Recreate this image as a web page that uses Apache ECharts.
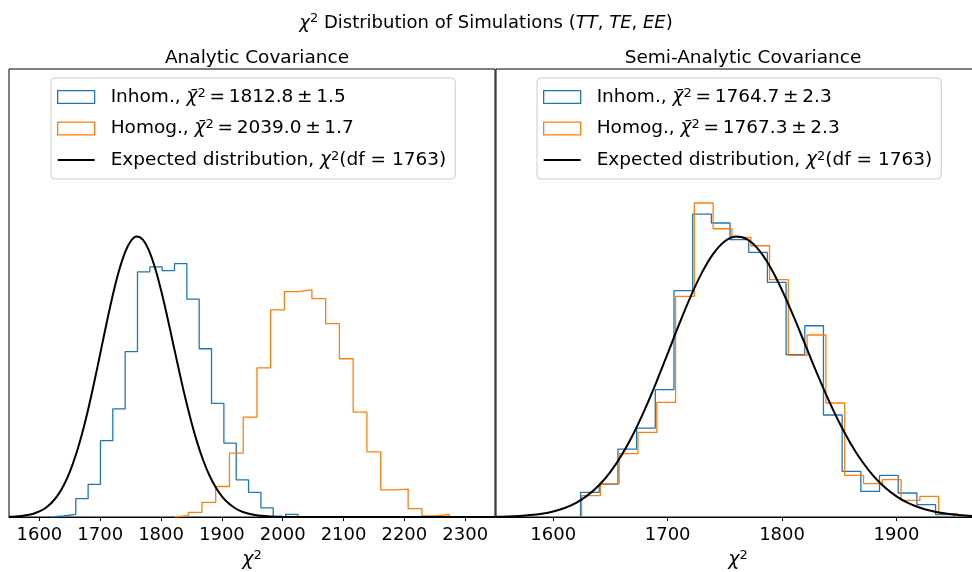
<!DOCTYPE html>
<html><head><meta charset="utf-8">
<script src="https://cdn.jsdelivr.net/npm/echarts@6/dist/echarts.min.js"></script>
<style>html,body{margin:0;padding:0;background:#fff}#c{width:972px;height:572px}</style>
</head><body><div id="c"></div>
<script>
// ---- data (densities in units of 1e-3) ----
const xTicksLeft = [1600, 1700, 1800, 1900, 2000, 2100, 2200, 2300];
const xTicksRight = [1600, 1700, 1800, 1900];

const leftInhomRange = [1619.2, 2025.0];
const leftInhom = [0.024, 0.065, 0.44, 0.78, 1.83, 2.59, 3.96, 5.87, 5.99, 5.90, 6.07, 5.22, 4.03, 2.72, 1.77, 0.89, 0.59, 0.22, 0.0, 0.065];
const leftHomogRange = [1822.0, 2274.0];
const leftHomog = [0.031, 0.11, 0.35, 0.73, 1.53, 2.39, 3.57, 4.96, 5.40, 5.44, 5.23, 4.63, 3.79, 2.51, 1.56, 0.65, 0.67, 0.20, 0.024, 0.06];

const rightInhomRange = [1623.9, 1950.5];
const rightInhom = [0.589, 0.790, 1.628, 2.131, 3.049, 5.420, 7.256, 7.041, 6.641, 6.337, 5.618, 3.887, 4.581, 2.443, 1.092, 0.613, 0.996, 0.575, 0.295, 0.055];
const rightHomogRange = [1624.8, 1953.3];
const rightHomog = [0.510, 0.797, 1.516, 2.026, 2.744, 5.283, 7.520, 6.904, 6.696, 6.497, 5.683, 3.870, 4.359, 2.730, 0.996, 0.797, 0.893, 0.398, 0.493, 0.079];

const curveX = [1550,1560,1570,1580,1590,1600,1610,1620,1630,1640,1650,1660,1670,1680,1690,1700,1710,1720,1730,1740,1750,1760,1770,1780,1790,1800,1810,1820,1830,1840,1850,1860,1870,1880,1890,1900,1910,1920,1930,1940,1950,1960,1970,1980,1990,2000,2020,2050,2100,2350];
const curveY = [0.0070,0.0135,0.0253,0.0455,0.0793,0.1334,0.2168,0.3406,0.5176,0.7608,1.0823,1.4906,1.9885,2.5704,3.2208,3.9129,4.6115,5.2737,5.8535,6.3091,6.6051,6.7190,6.6434,6.3867,5.9715,5.4319,4.8089,4.1440,3.4777,2.8426,2.2638,1.7570,1.3296,0.9810,0.7059,0.4957,0.3395,0.2271,0.1482,0.0945,0.0589,0.0358,0.0213,0.0124,0.0070,0.0039,0.0011,0.0001,0,0];

const nameLI = 'Inhom., {i|χ̄}{s|2}\u2009=\u20091812.8\u2009±\u20091.5';
const nameLH = 'Homog., {i|χ̄}{s|2}\u2009=\u20092039.0\u2009±\u20091.7';
const nameRI = 'Inhom., {i|χ̄}{s|2}\u2009=\u20091764.7\u2009±\u20092.3';
const nameRH = 'Homog., {i|χ̄}{s|2}\u2009=\u20091767.3\u2009±\u20092.3';
const nameC = 'Expected distribution, {i|χ}{s|2}(df = 1763)';

// ---- build ----
const BLUE = '#1f77b4', ORANGE = '#ff7f0e';
function stepData(range, vals) {
  const n = vals.length, w = (range[1] - range[0]) / n;
  const d = [[range[0], 0]];
  vals.forEach((v, i) => d.push([range[0] + i * w, v]));
  d.push([range[1], vals[n - 1]]);
  d.push([range[1], 0]);
  return d;
}
const curve = curveX.map((x, i) => [x, curveY[i]]);
const FONT = 'DejaVu Sans';
function mkRich(fs, lh) {
  return {
    i: { fontStyle: 'italic', fontFamily: FONT, fontSize: fs, lineHeight: lh },
    s: { fontFamily: FONT, fontSize: Math.round(fs * 0.7), lineHeight: Math.round(fs * 0.7), verticalAlign: 'top' }
  };
}

function histSeries(name, data, color, idx) {
  return { name, type: 'line', step: 'end', data, xAxisIndex: idx, yAxisIndex: idx,
    showSymbol: false, symbol: 'none', lineStyle: { color, width: 1.3 }, itemStyle: { color },
    animation: false, silent: true };
}
function curveSeries(idx) {
  return { name: nameC, type: 'line', data: curve, smooth: 0.4, xAxisIndex: idx, yAxisIndex: idx,
    showSymbol: false, symbol: 'none', lineStyle: { color: '#000', width: 2 }, itemStyle: { color: '#000' },
    animation: false, silent: true, z: 5 };
}
function legend(left, n1, n2) {
  return {
    left, top: 78, orient: 'vertical', selectedMode: false,
    data: [
      { name: n1, icon: 'rect', itemStyle: { color: 'rgba(0,0,0,0)', borderColor: BLUE, borderWidth: 1.3 } },
      { name: n2, icon: 'rect', itemStyle: { color: 'rgba(0,0,0,0)', borderColor: ORANGE, borderWidth: 1.3 } },
      { name: nameC, icon: 'path://M0,0L37,0L37,2L0,2Z', itemStyle: { color: '#000', borderWidth: 0 } }
    ],
    itemWidth: 37, itemHeight: 12.6, itemGap: 11.5,
    backgroundColor: 'rgba(255,255,255,0.8)', borderColor: '#cccccc', borderWidth: 1, borderRadius: 4,
    padding: [9, 9, 9, 6],
    textStyle: { fontFamily: FONT, fontSize: 18.5, color: '#000', lineHeight: 20, padding: [0, 0, 0, 11], rich: mkRich(18.5, 20) },
    formatter: n => n
  };
}
function xAxis(idx, min, max, ticks) {
  return { type: 'value', gridIndex: idx, min, max,
    name: '{i|χ}{s|2}', nameLocation: 'middle', nameGap: 32,
    nameTextStyle: { fontFamily: FONT, fontSize: 19, color: '#000', rich: mkRich(19, 22) },
    axisLine: { show: true, onZero: false, lineStyle: { color: '#000', width: 1 } },
    axisTick: { show: true, inside: false, length: 4, customValues: ticks, lineStyle: { color: '#000', width: 1 } },
    axisLabel: { show: true, margin: 9, customValues: ticks, fontFamily: FONT, fontSize: 18, color: '#000',
      formatter: v => String(v) },
    splitLine: { show: false } };
}
function yAxis(idx) {
  return { type: 'value', gridIndex: idx, min: 0, max: 10.73, show: false, splitLine: { show: false } };
}

const chart = echarts.init(document.getElementById('c'), null, { renderer: 'canvas' });
chart.setOption({
  backgroundColor: '#fff',
  animation: false,
  title: [
    { text: '{i|χ}{s|2} Distribution of Simulations ({i|TT}, {i|TE}, {i|EE})', left: 'center', top: 7,
      textStyle: { fontFamily: FONT, fontSize: 18, fontWeight: 'normal', color: '#000', lineHeight: 22,
        rich: mkRich(18, 22) } },
    { text: 'Analytic Covariance', left: 252, top: 44, textAlign: 'center',
      textStyle: { fontFamily: FONT, fontSize: 18.5, fontWeight: 'normal', color: '#000' } },
    { text: 'Semi-Analytic Covariance', left: 738, top: 44, textAlign: 'center',
      textStyle: { fontFamily: FONT, fontSize: 18.5, fontWeight: 'normal', color: '#000' } }
  ],
  grid: [
    { left: 9, top: 69, width: 486, height: 448, show: true, borderColor: '#000', borderWidth: 1,
      backgroundColor: 'transparent', containLabel: false, outerBoundsMode: 'none' },
    { left: 496, top: 69, width: 484, height: 448, show: true, borderColor: '#000', borderWidth: 1,
      backgroundColor: 'transparent', containLabel: false, outerBoundsMode: 'none' }
  ],
  xAxis: [xAxis(0, 1550, 2349, xTicksLeft), xAxis(1, 1550, 1973, xTicksRight)],
  yAxis: [yAxis(0), yAxis(1)],
  legend: [legend(51, nameLI, nameLH), legend(537, nameRI, nameRH)],
  series: [
    histSeries(nameLI, stepData(leftInhomRange, leftInhom), BLUE, 0),
    histSeries(nameLH, stepData(leftHomogRange, leftHomog), ORANGE, 0),
    curveSeries(0),
    histSeries(nameRI, stepData(rightInhomRange, rightInhom), BLUE, 1),
    histSeries(nameRH, stepData(rightHomogRange, rightHomog), ORANGE, 1),
    curveSeries(1)
  ]
});
</script></body></html>
